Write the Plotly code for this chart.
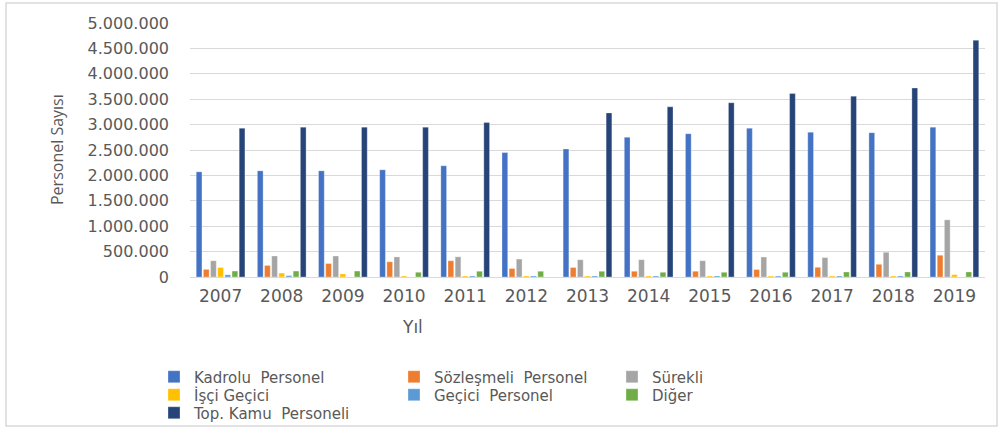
import plotly.graph_objects as go

years = ["2007", "2008", "2009", "2010", "2011", "2012", "2013",
         "2014", "2015", "2016", "2017", "2018", "2019"]

kadrolu = [2070000, 2090000, 2090000, 2110000, 2190000, 2450000, 2520000,
           2750000, 2820000, 2930000, 2850000, 2840000, 2950000]
sozlesmeli = [150000, 227000, 265000, 300000, 320000, 167000, 187000,
              113000, 113000, 147000, 191000, 250000, 428000]
surekli = [320000, 413000, 413000, 395000, 397000, 353000, 340000,
           340000, 320000, 393000, 382000, 487000, 1125000]
isci_gecici = [187000, 77000, 60000, 20000, 20000, 20000, 20000,
               20000, 20000, 20000, 20000, 20000, 46000]
gecici = [43000, 27000, None, None, 20000, 20000, 20000,
          20000, 20000, 20000, 20000, 20000, None]
diger = [117000, 117000, 117000, 93000, 113000, 113000, 113000,
         93000, 93000, 93000, 99000, 99000, 99000]
top_kamu = [2930000, 2950000, 2950000, 2950000, 3040000, None, 3230000,
            3350000, 3430000, 3610000, 3560000, 3720000, 4660000]

# name, values, colour, legend text position (left x, centre y) in pixels
series = [
    ("Kadrolu  Personel", kadrolu, "#4472C4", (192, 377)),
    ("Sözleşmeli  Personel", sozlesmeli, "#ED7D31", (432, 377)),
    ("Sürekli", surekli, "#A5A5A5", (650, 377)),
    ("İşçi Geçici", isci_gecici, "#FFC000", (192, 395)),
    ("Geçici  Personel", gecici, "#5B9BD5", (432, 395)),
    ("Diğer", diger, "#70AD47", (650, 395)),
    ("Top. Kamu  Personeli", top_kamu, "#264478", (192, 413)),
]

# plot area in pixels
L, R, T, B = 190, 985, 23, 277


def px_x(p):
    return (p - L) / (R - L)


def px_y(p):
    return (B - p) / (B - T)


font = "DejaVu Sans"
txt = "#595959"

fig = go.Figure()
legends = {}
for i, (name, vals, color, (lx, ly)) in enumerate(series):
    key = "legend" if i == 0 else f"legend{i + 1}"
    fig.add_trace(go.Bar(
        x=years, y=vals, name=name, legend=key,
        marker=dict(color=color, line=dict(color="rgba(255,255,255,0.6)", width=0.5)),
    ))
    legends[key] = dict(
        orientation="v", xanchor="left", yanchor="middle",
        x=px_x(lx - 38), y=px_y(ly),
        font=dict(family=font, size=15, color=txt),
        bgcolor="rgba(0,0,0,0)",
    )

fig.update_layout(
    width=1001, height=437,
    margin=dict(l=L, r=1001 - R, t=T, b=437 - B, autoexpand=False),
    paper_bgcolor="white", plot_bgcolor="white",
    separators=",.",
    barmode="group", bargap=0.18, bargroupgap=0.2,
    font=dict(family=font, color=txt),
    showlegend=True,
    xaxis=dict(
        type="category",
        showline=True, linecolor="#D9D9D9", linewidth=1,
        showgrid=False, ticks="",
        ticklabelstandoff=4,
        tickfont=dict(family=font, size=17, color=txt),
    ),
    yaxis=dict(
        range=[0, 5000000], dtick=500000, tickformat=",",
        showgrid=True, gridcolor="#D9D9D9", gridwidth=1,
        zeroline=False, showline=False, ticks="",
        ticklabelstandoff=20,
        tickfont=dict(family=font, size=16, color=txt),
    ),
    annotations=[
        dict(text="Personel Sayısı", textangle=-90,
             x=px_x(57), y=px_y(150), xref="paper", yref="paper",
             xanchor="center", yanchor="middle", showarrow=False,
             font=dict(family="Open Sans", size=16, color=txt)),
        dict(text="Yıl", x=px_x(412), y=px_y(327), xref="paper", yref="paper",
             xanchor="center", yanchor="middle", showarrow=False,
             font=dict(family=font, size=17, color=txt)),
    ],
    shapes=[
        dict(type="rect", xref="paper", yref="paper",
             x0=px_x(6), x1=px_x(997), y0=px_y(426), y1=px_y(3),
             line=dict(color="#D9D9D9", width=1.5), fillcolor="rgba(0,0,0,0)"),
    ],
    **legends,
)

fig.write_html("out.html", config={"displayModeBar": False},
               post_script="document.body.style.margin = '0';")
